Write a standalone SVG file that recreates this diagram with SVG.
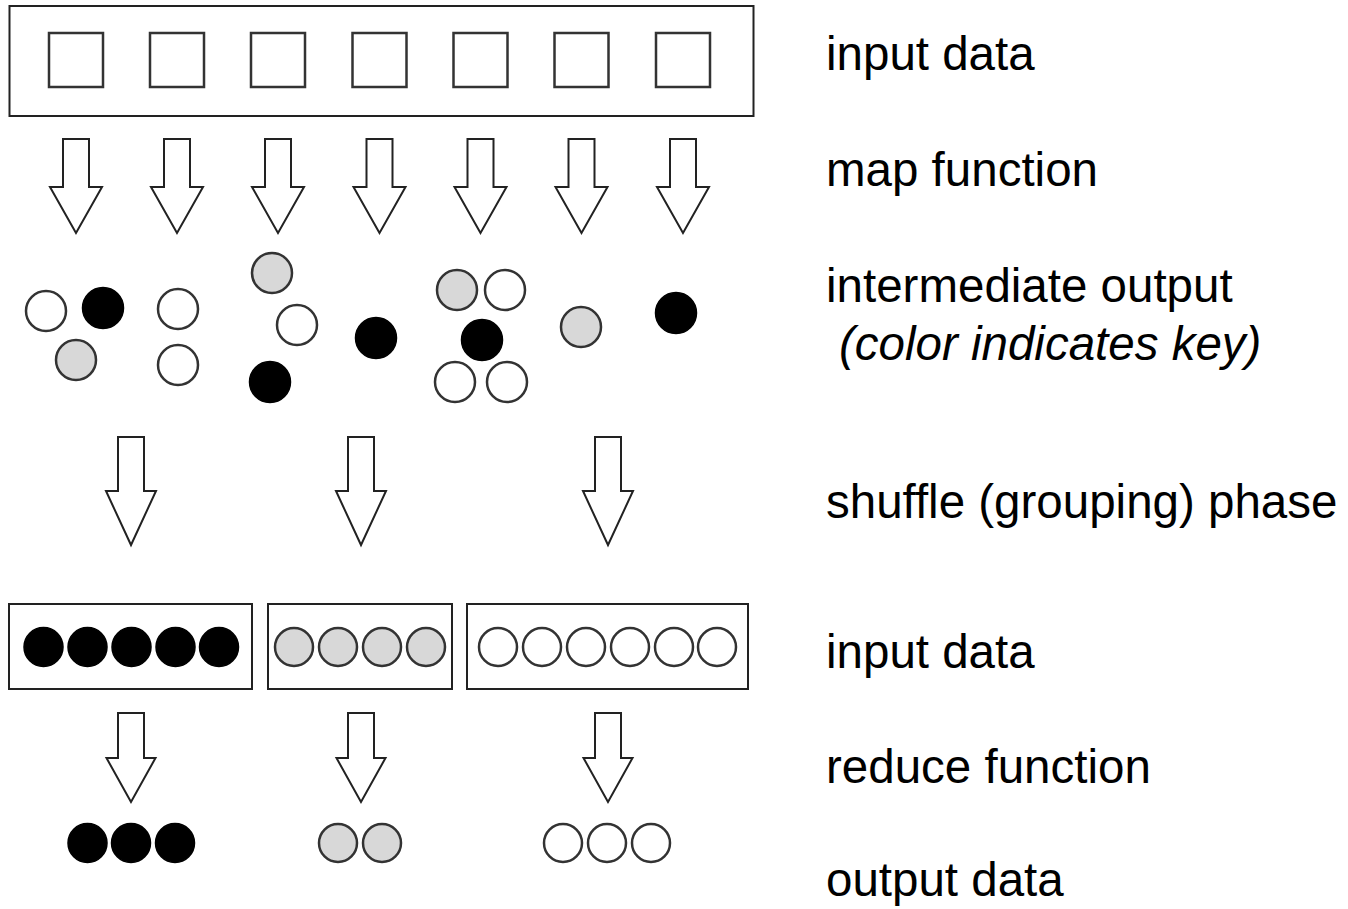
<svg xmlns="http://www.w3.org/2000/svg" xmlns:xlink="http://www.w3.org/1999/xlink" width="1348" height="909" viewBox="0 0 1348 909">
  <style>
    .box { fill: #fff; stroke: #222; stroke-width: 2; }
    .sq { fill: #fff; stroke: #333; stroke-width: 2.5; }
    .arrow { fill: #fff; stroke: #222; stroke-width: 2; stroke-linejoin: miter; }
    .k { fill: #000; stroke: #000; stroke-width: 1.5; }
    .g { fill: #d8d8d8; stroke: #333; stroke-width: 2.5; }
    .w { fill: #fff; stroke: #333; stroke-width: 2.5; }
    .label { font-family: "Liberation Sans", Arial, sans-serif; font-size: 47.5px; fill: #000; }
    .note { font-style: italic; }
  </style>
  <defs>
    <!-- hollow block arrows, anchored at the middle of the shaft top -->
    <path id="arrowMap" class="arrow" d="M-13,0 H13 V48 H26 L0,94 L-26,48 H-13 Z"/>
    <path id="arrowShuffle" class="arrow" d="M-13,0 H13 V54 H25 L0,108 L-25,54 H-13 Z"/>
    <path id="arrowReduce" class="arrow" d="M-13,0 H13 V45 H24.5 L0,89 L-24.5,45 H-13 Z"/>
  </defs>
  <rect width="1348" height="909" fill="#fff"/>

  <!-- input records -->
  <g id="input-data">
    <rect class="box" x="9.5" y="6" width="744" height="110"/>
    <rect class="sq" x="49" y="33" width="54" height="54"/>
    <rect class="sq" x="150" y="33" width="54" height="54"/>
    <rect class="sq" x="251" y="33" width="54" height="54"/>
    <rect class="sq" x="352.5" y="33" width="54" height="54"/>
    <rect class="sq" x="453.5" y="33" width="54" height="54"/>
    <rect class="sq" x="554.5" y="33" width="54" height="54"/>
    <rect class="sq" x="656" y="33" width="54" height="54"/>
  </g>

  <!-- key/value pairs emitted by each map call -->
  <g id="intermediate-output">
    <circle class="w" cx="46" cy="311" r="20"/>
    <circle class="k" cx="103" cy="308" r="20.5"/>
    <circle class="g" cx="76" cy="360" r="20"/>
    <circle class="w" cx="178" cy="309" r="20"/>
    <circle class="w" cx="178" cy="365" r="20"/>
    <circle class="g" cx="272" cy="273" r="20"/>
    <circle class="w" cx="297" cy="325" r="20"/>
    <circle class="k" cx="270" cy="382" r="20.5"/>
    <circle class="k" cx="376" cy="338" r="20.5"/>
    <circle class="g" cx="457" cy="290" r="20"/>
    <circle class="w" cx="505" cy="290" r="20"/>
    <circle class="k" cx="482" cy="340" r="20.5"/>
    <circle class="w" cx="455" cy="382" r="20"/>
    <circle class="w" cx="507" cy="382" r="20"/>
    <circle class="g" cx="581" cy="327" r="20"/>
    <circle class="k" cx="676" cy="313" r="20.5"/>
  </g>

  <!-- grouped inputs for the reducers -->
  <g id="group-black">
    <rect class="box" x="9" y="604" width="243" height="85"/>
    <circle class="k" cx="43.5" cy="647" r="19.5"/>
    <circle class="k" cx="87.5" cy="647" r="19.5"/>
    <circle class="k" cx="131.5" cy="647" r="19.5"/>
    <circle class="k" cx="175.5" cy="647" r="19.5"/>
    <circle class="k" cx="219" cy="647" r="19.5"/>
  </g>
  <g id="group-gray">
    <rect class="box" x="268" y="604" width="184" height="85"/>
    <circle class="g" cx="294" cy="647" r="19"/>
    <circle class="g" cx="338" cy="647" r="19"/>
    <circle class="g" cx="382" cy="647" r="19"/>
    <circle class="g" cx="426" cy="647" r="19"/>
  </g>
  <g id="group-white">
    <rect class="box" x="467" y="604" width="281" height="85"/>
    <circle class="w" cx="498" cy="647" r="19"/>
    <circle class="w" cx="542" cy="647" r="19"/>
    <circle class="w" cx="586" cy="647" r="19"/>
    <circle class="w" cx="630" cy="647" r="19"/>
    <circle class="w" cx="674" cy="647" r="19"/>
    <circle class="w" cx="717" cy="647" r="19"/>
  </g>

  <!-- reducer results -->
  <g id="output-data">
    <circle class="k" cx="87.5" cy="843" r="19.5"/>
    <circle class="k" cx="131" cy="843" r="19.5"/>
    <circle class="k" cx="175" cy="843" r="19.5"/>
    <circle class="g" cx="338" cy="843" r="19"/>
    <circle class="g" cx="382" cy="843" r="19"/>
    <circle class="w" cx="563" cy="843" r="19"/>
    <circle class="w" cx="607" cy="843" r="19"/>
    <circle class="w" cx="651" cy="843" r="19"/>
  </g>

  <!-- flow arrows -->
  <g id="connectors">
    <use xlink:href="#arrowMap" x="76" y="139"/>
    <use xlink:href="#arrowMap" x="177" y="139"/>
    <use xlink:href="#arrowMap" x="278" y="139"/>
    <use xlink:href="#arrowMap" x="379.5" y="139"/>
    <use xlink:href="#arrowMap" x="480.5" y="139"/>
    <use xlink:href="#arrowMap" x="581.5" y="139"/>
    <use xlink:href="#arrowMap" x="683" y="139"/>
    <use xlink:href="#arrowShuffle" x="131" y="437"/>
    <use xlink:href="#arrowShuffle" x="361" y="437"/>
    <use xlink:href="#arrowShuffle" x="608" y="437"/>
    <use xlink:href="#arrowReduce" x="131" y="713"/>
    <use xlink:href="#arrowReduce" x="361" y="713"/>
    <use xlink:href="#arrowReduce" x="608" y="713"/>
  </g>

  <!-- stage captions -->
  <g id="captions">
    <text class="label" x="826" y="70">input data</text>
    <text class="label" x="826" y="186">map function</text>
    <text class="label" x="826" y="302">intermediate output</text>
    <text class="label note" x="839" y="360">(color indicates key)</text>
    <text class="label" x="826" y="518">shuffle (grouping) phase</text>
    <text class="label" x="826" y="668">input data</text>
    <text class="label" x="826" y="783">reduce function</text>
    <text class="label" x="826" y="896">output data</text>
  </g>
</svg>
